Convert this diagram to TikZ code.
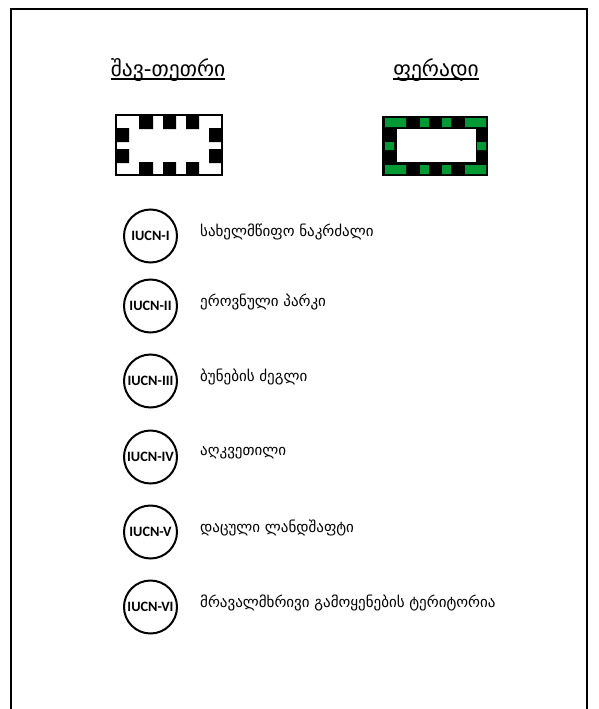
\documentclass[tikz,border=0pt]{standalone}
\usepackage{fontspec}
\setmainfont{DejaVu Sans}
\newfontfamily\iucnfont{Carlito}
\usepackage{xcolor}
\usetikzlibrary{positioning}
\definecolor{mwvane}{RGB}{0,153,51}

\tikzset{
  zone/.style={draw, circle, line width=2pt, minimum size=53pt, inner sep=0pt,
    font=\iucnfont\bfseries\fontsize{14.3}{15}\selectfont},
  zonetext/.style={anchor=west, inner sep=0pt, font=\fontsize{15}{17}\selectfont},
  titletext/.style={anchor=base, inner sep=0pt, font=\fontsize{21.5}{24}\selectfont},
}

\begin{document}
\begin{tikzpicture}[x=1pt, y=-1pt]
        \useasboundingbox (0,0) rectangle (598,709);
        \clip (0,0) rectangle (598,709);
        % ჩარჩო
        \draw[line width=2pt] (10.5,9.5) rectangle (587,730);

        % სათაურები
        \node[titletext] (bw) at (168,76) {შავ-თეთრი};
        \node[titletext] (col) at (436,76) {ფერადი};
        \draw[line width=1.8pt] ([yshift=-3pt]bw.base west) -- ([yshift=-3pt]bw.base east);
        \draw[line width=1.8pt] ([yshift=-3pt]col.base west) -- ([yshift=-3pt]col.base east);

        % შავ-თეთრი ნიმუში
        \draw[line width=2pt] (116,115) rectangle (222,175);
        \fill (139,115) rectangle (153,129) (163,115) rectangle (176,129) (186,115) rectangle (199,129);
        \fill (139,162) rectangle (153,175) (163,162) rectangle (176,175) (186,162) rectangle (199,175);
        \fill (116,128) rectangle (129,142) (116,149) rectangle (129,163);
        \fill (209,128) rectangle (222,142) (209,149) rectangle (222,163);

        % ფერადი ნიმუში
        \fill[black] (382,116) rectangle (488,176);
        \fill[white] (397,129) rectangle (476,162);
        \fill[mwvane] (385,118) rectangle (406,127) (420,118) rectangle (429,127)
                      (442,118) rectangle (451,127) (465,118) rectangle (486,127);
        \fill[mwvane] (385,165) rectangle (406,174) (420,165) rectangle (429,174)
                      (442,165) rectangle (451,174) (465,165) rectangle (486,174);
        \fill[mwvane] (385,142) rectangle (394,150) (477,142) rectangle (486,150);

        % IUCN კატეგორიები
        \node[zone] (c1) at (150.5,236) {IUCN-I};
        \node[zonetext] (t1) at (200,232) {სახელმწიფო ნაკრძალი};
        \node[zone] (c2) at (150.5,306) {IUCN-II};
        \node[zonetext] (t2) at (200,302) {ეროვნული პარკი};
        \node[zone] (c3) at (150.5,381) {IUCN-III};
        \node[zonetext] (t3) at (200,377) {ბუნების ძეგლი};
        \node[zone] (c4) at (150.5,457) {IUCN-IV};
        \node[zonetext] (t4) at (200,453) {აღკვეთილი};
        \node[zone] (c5) at (150.5,532) {IUCN-V};
        \node[zonetext] (t5) at (200,528) {დაცული ლანდშაფტი};
        \node[zone] (c6) at (150.5,607) {IUCN-VI};
        \node[zonetext] (t6) at (200,603) {მრავალმხრივი გამოყენების ტერიტორია};
\end{tikzpicture}
\end{document}
